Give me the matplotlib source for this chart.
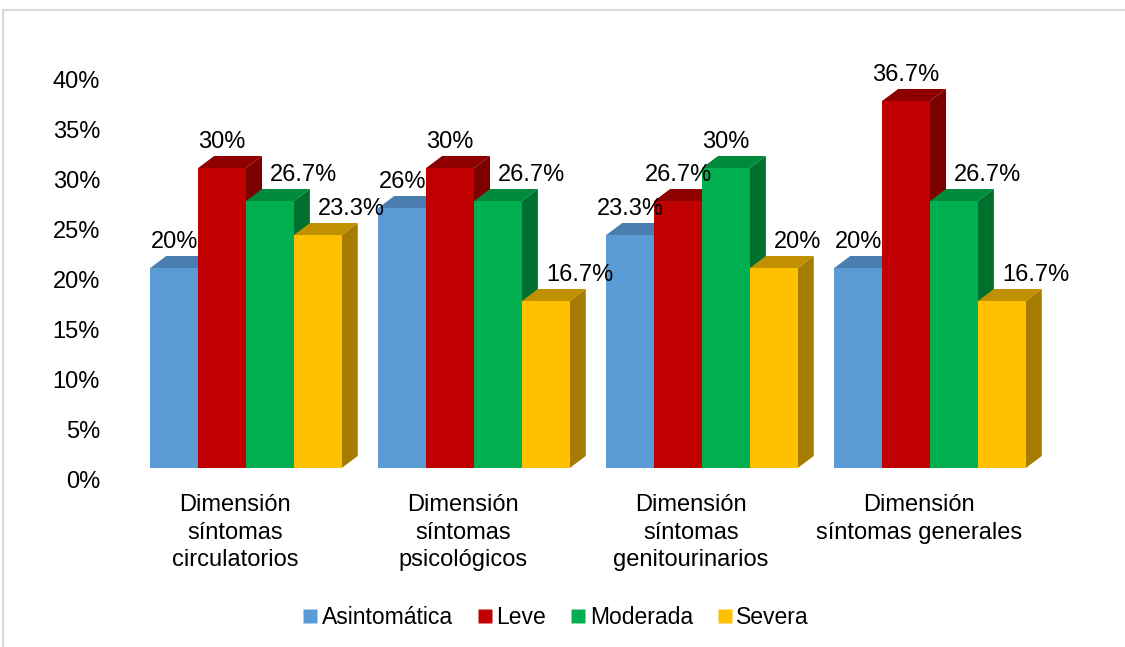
import numpy as np
import matplotlib.pyplot as plt
from matplotlib.patches import Polygon
from matplotlib.transforms import ScaledTranslation
from matplotlib.lines import Line2D

plt.rcParams['font.family'] = ['Liberation Sans', 'DejaVu Sans']

categories = ["Dimensión\nsíntomas\ncirculatorios",
              "Dimensión\nsíntomas\npsicológicos",
              "Dimensión\nsíntomas\ngenitourinarios",
              "Dimensión\nsíntomas generales"]
series = ["Asintomática", "Leve", "Moderada", "Severa"]
asintomatica = [20, 26, 23.3, 20]
leve = [30, 30, 26.7, 36.7]
moderada = [26.7, 26.7, 30, 26.7]
severa = [23.3, 16.7, 20, 16.7]
values = [asintomatica, leve, moderada, severa]

front = ["#5B9BD5", "#C00000", "#00B050", "#FFC000"]
side = ["#41719C", "#7B0000", "#00702F", "#A67C00"]
top = ["#4A7DB0", "#8E0000", "#008A3C", "#C09000"]

fig = plt.figure(figsize=(11.25, 6.47), dpi=100)
ax = fig.add_axes([132/1125, 1 - 468/647, 912/1125, 400/647])

width = 0.21
dx = 16 / 228   # depth offset, x
dy = 1.2        # depth offset, y (%)
x = np.arange(len(categories))

for i in range(len(categories)):
    for j in range(len(series)):
        h = values[j][i]
        x0 = x[i] + (j - 2) * width
        x1 = x0 + width
        ax.add_patch(Polygon([(x1, 0), (x1 + dx, dy), (x1 + dx, h + dy), (x1, h)],
                             closed=True, facecolor=side[j], edgecolor='none', clip_on=False))
        ax.add_patch(Polygon([(x0, h), (x1, h), (x1 + dx, h + dy), (x0 + dx, h + dy)],
                             closed=True, facecolor=top[j], edgecolor='none', clip_on=False))
        ax.bar(x0, h, width, align='edge', color=front[j], clip_on=False, zorder=2)

        # data labels: shift right when the bar to the left is taller
        lbl = f"{h:g}%"
        if j > 0 and values[j - 1][i] > h:
            ax.annotate(lbl, (x0 + dx, h), xytext=(6, 19), textcoords='offset points',
                        ha='left', va='center', fontsize=17, zorder=5, annotation_clip=False)
        else:
            ax.annotate(lbl, (x0 + width / 2, h), xytext=(0, 19), textcoords='offset points',
                        ha='center', va='center', fontsize=17, zorder=5, annotation_clip=False)

ax.set_xlim(-0.5, 3.5)
ax.set_ylim(0, 40)
ax.set_yticks(np.arange(0, 41, 5))
ax.set_yticklabels([f"{v}%" for v in range(0, 41, 5)], fontsize=17)
ax.set_xticks(x)
ax.set_xticklabels(categories, fontsize=17, linespacing=1.32)
ax.tick_params(axis='y', length=0, pad=23)
ax.tick_params(axis='x', length=0, pad=19)
for s in ax.spines.values():
    s.set_visible(False)

shift_y = ScaledTranslation(0, -12 / 100, fig.dpi_scale_trans)
for t in ax.get_yticklabels():
    t.set_transform(t.get_transform() + shift_y)
shift_x = ScaledTranslation(-11 / 100, 0, fig.dpi_scale_trans)
for t in ax.get_xticklabels():
    t.set_transform(t.get_transform() + shift_x)

handles = [Line2D([], [], marker='s', linestyle='none', markersize=9.5,
                  markerfacecolor=c, markeredgecolor='none') for c in front]
fig.legend(handles, series, loc='center', bbox_to_anchor=(555/1125, 1 - 618/647),
           ncol=4, frameon=False, fontsize=16.5, handletextpad=0.1, columnspacing=1.0,
           handlelength=0.8)

# chart area border (left and top)
fig.add_artist(Line2D([3/1125, 3/1125], [0, 1 - 10/647], color='#D9D9D9', lw=1.5))
fig.add_artist(Line2D([3/1125, 1], [1 - 10/647, 1 - 10/647], color='#D9D9D9', lw=1.5))

fig.savefig("out.png", dpi=100)
